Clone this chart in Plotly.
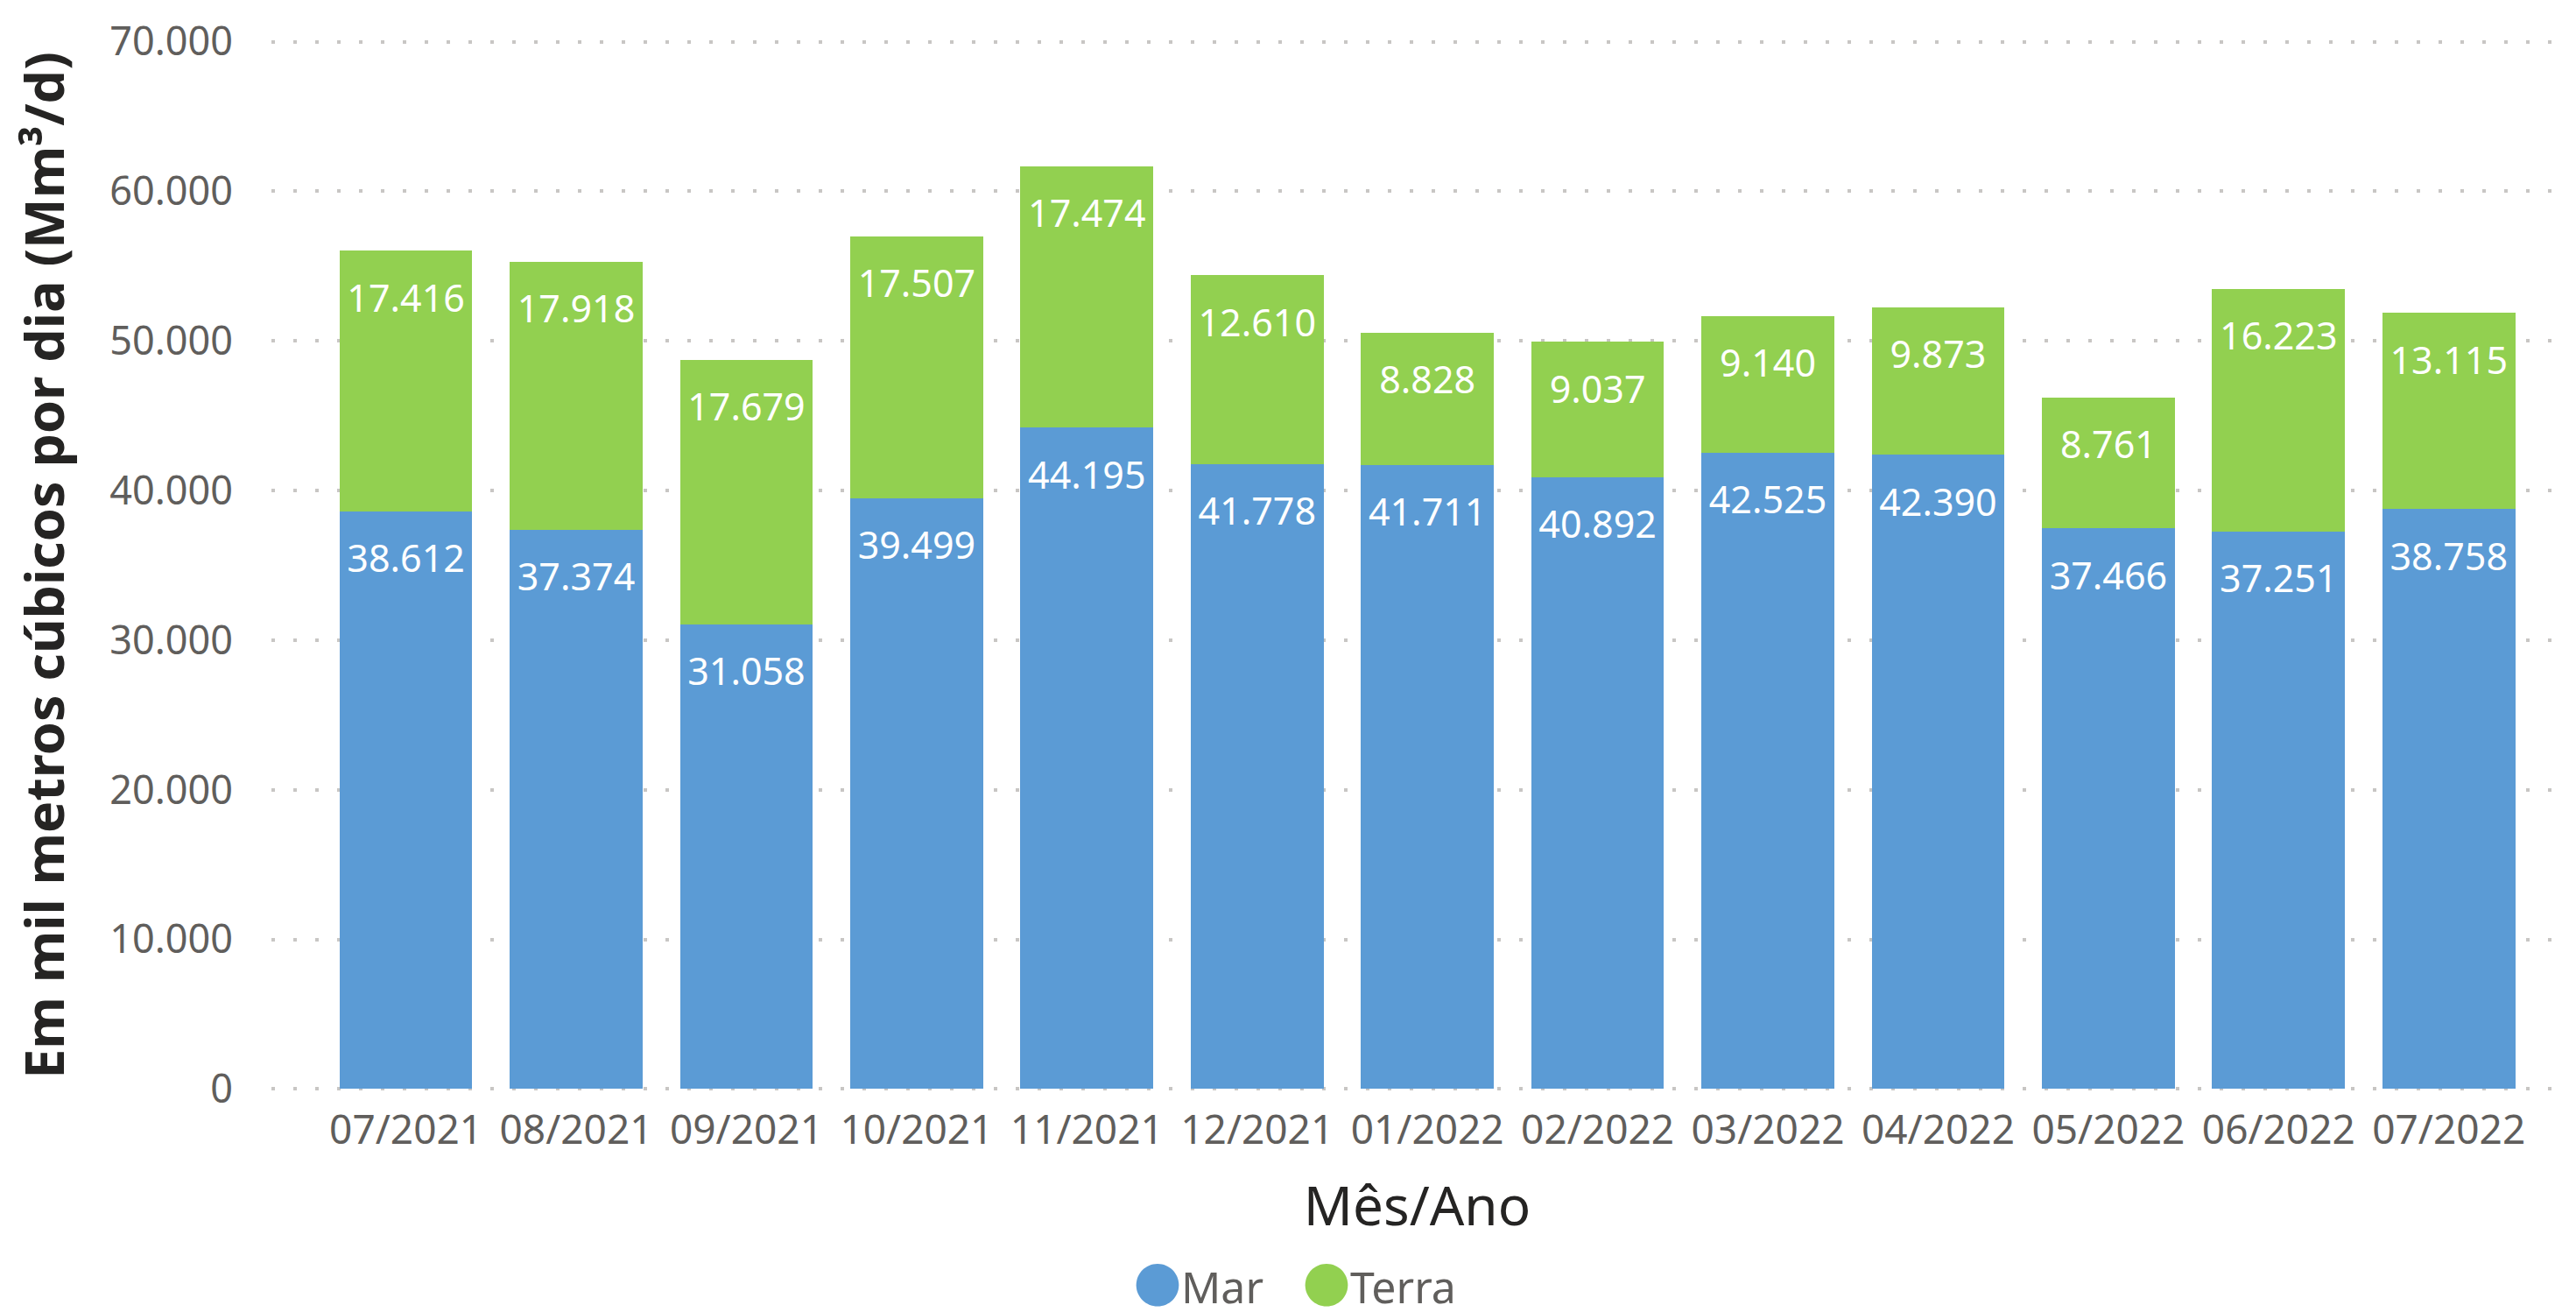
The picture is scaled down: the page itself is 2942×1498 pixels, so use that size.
import plotly.graph_objects as go

months = ["07/2021", "08/2021", "09/2021", "10/2021", "11/2021", "12/2021",
          "01/2022", "02/2022", "03/2022", "04/2022", "05/2022", "06/2022", "07/2022"]
mar = [38612, 37374, 31058, 39499, 44195, 41778, 41711, 40892, 42525, 42390, 37466, 37251, 38758]
terra = [17416, 17918, 17679, 17507, 17474, 12610, 8828, 9037, 9140, 9873, 8761, 16223, 13115]
y_ticks = [0, 10000, 20000, 30000, 40000, 50000, 60000, 70000]

BLUE = "#5B9BD5"
GREEN = "#92D050"
FONT = "Noto Sans"

fig = go.Figure()
for name, vals, col in [("Mar", mar, BLUE), ("Terra", terra, GREEN)]:
    fig.add_trace(go.Bar(
        x=months, y=vals, name=name, marker=dict(color=col, line=dict(width=0)),
        # small spacer line above the value pushes the label down from the segment top
        texttemplate="&nbsp;<br><span style='font-size:43px'>%{y:,d}</span>",
        textposition="inside", insidetextanchor="end",
        textangle=0, textfont=dict(family=FONT, size=28, color="white"),
        constraintext="none", showlegend=False,
    ))
    # legend entry with a round symbol
    fig.add_trace(go.Scatter(
        x=[None], y=[None], mode="markers",
        marker=dict(color="rgba(0,0,0,0)", size=2),
        name=(f'<span style="color:{col};font-family:\'Noto Sans CJK JP\';'
              f'font-size:54px">●</span>{name}'),
        showlegend=True,
    ))

fig.update_layout(
    width=2942, height=1498,
    margin=dict(l=302, r=23, t=37, b=260, autoexpand=False),
    barmode="stack", bargap=0.22,
    separators=",.",
    plot_bgcolor="white", paper_bgcolor="white",
    font=dict(family=FONT, color="#605E5C"),
    legend=dict(orientation="h", traceorder="normal",
                x=0.44, xanchor="center", y=-0.185, yanchor="middle",
                font=dict(family=FONT, size=50, color="#605E5C"),
                itemwidth=30, itemclick=False, tracegroupgap=0),
    xaxis=dict(
        type="category", range=[-0.79, 12.67], automargin=False,
        showgrid=False, showline=False, zeroline=False, ticks="",
        tickfont=dict(family=FONT, size=46, color="#605E5C"),
        ticklabelstandoff=13,
        title=dict(text="Mês/Ano", font=dict(family=FONT, size=62, color="#252423"), standoff=37),
    ),
    yaxis=dict(
        range=[-150, 70150], tickvals=y_ticks, tickformat=",d", automargin=False,
        showgrid=True, gridcolor="#C8C6C4", gridwidth=4, griddash="4px,21px",
        showline=False, zeroline=False, ticks="",
        tickfont=dict(family=FONT, size=45, color="#605E5C"),
        ticklabelstandoff=43,
        title=dict(text="<b>Em mil metros cúbicos por dia (Mm³/d)</b>",
                   font=dict(family=FONT, size=61, color="#252423"), standoff=42),
    ),
)

fig.write_html("out.html")
